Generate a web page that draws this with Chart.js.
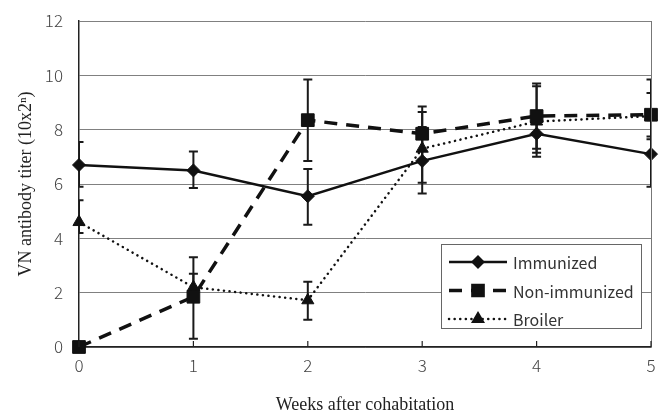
<!DOCTYPE html>
<html>
<head>
<meta charset="utf-8">
<script src="https://cdn.jsdelivr.net/npm/chart.js@4.4.0/dist/chart.umd.min.js"></script>
<style>
  html, body { margin: 0; padding: 0; background: #fff; }
</style>
</head>
<body>
<canvas id="titerChart" width="661" height="420"></canvas>
<script>
// values
const weeks = [0, 1, 2, 3, 4, 5];
const seriesNames = ['Immunized', 'Non-immunized', 'Broiler'];

const immunized     = [6.7, 6.5, 5.55, 6.85, 7.85, 7.1];
const immunizedLow  = [5.9, 5.85, 4.5, 5.65, 7.15, 5.9];
const immunizedHigh = [7.55, 7.2, 6.55, 8.1, 8.6, 8.35];

const nonImmunized     = [0, 1.85, 8.35, 7.85, 8.5, 8.55];
const nonImmunizedLow  = [0, 0.3, 6.85, 6.9, 7.3, 7.75];
const nonImmunizedHigh = [0, 3.3, 9.85, 8.85, 9.7, 9.85];

const broiler     = [4.6, 2.2, 1.72, 7.3, 8.3, 8.5];
const broilerLow  = [4.2, 1.7, 1.0, 6.05, 7.0, 7.65];
const broilerHigh = [5.4, 2.7, 2.4, 8.65, 9.6, 9.35];

const yTicks = [0, 2, 4, 6, 8, 10, 12];

function toPoints(vals) {
    return weeks.map((w, i) => ({ x: w, y: vals[i] }));
}

const lowArrays = [immunizedLow, nonImmunizedLow, broilerLow];
const highArrays = [immunizedHigh, nonImmunizedHigh, broilerHigh];
const tickFont = '"Noto Sans CJK JP", "DejaVu Sans", sans-serif';
const titleFont = '"Liberation Serif", "Times New Roman", serif';

// error bars, drawn through the scales and clipped to the plot area
const errorBars = {
    id: 'errorBars',
    beforeDatasetsDraw(chart) {
        const { ctx, chartArea, scales } = chart;
        ctx.save();
        ctx.beginPath();
        ctx.rect(chartArea.left, chartArea.top, chartArea.right - chartArea.left, chartArea.bottom - chartArea.top);
        ctx.clip();
        ctx.strokeStyle = '#1a1a1a';
        ctx.lineWidth = 2;
        lowArrays.forEach((lows, d) => {
            const highs = highArrays[d];
            weeks.forEach((w, i) => {
                if (lows[i] === highs[i]) return;
                const x = scales.x.getPixelForValue(w);
                const y1 = scales.y.getPixelForValue(lows[i]);
                const y2 = scales.y.getPixelForValue(highs[i]);
                ctx.beginPath();
                ctx.moveTo(x, y1); ctx.lineTo(x, y2);
                ctx.moveTo(x - 4.5, y1); ctx.lineTo(x + 4.5, y1);
                ctx.moveTo(x - 4.5, y2); ctx.lineTo(x + 4.5, y2);
                ctx.stroke();
            });
        });
        ctx.restore();
    },
    afterDraw(chart) {
        const { ctx, chartArea, scales } = chart;
        ctx.save();
        // right border of the frame
        ctx.strokeStyle = '#777';
        ctx.lineWidth = 1;
        ctx.beginPath();
        ctx.moveTo(chartArea.right + 0.5, chartArea.top);
        ctx.lineTo(chartArea.right + 0.5, chartArea.bottom);
        ctx.stroke();
        // inward tick marks on the x axis
        ctx.strokeStyle = '#222';
        ctx.lineWidth = 1.2;
        weeks.forEach(w => {
            const x = scales.x.getPixelForValue(w);
            ctx.beginPath();
            ctx.moveTo(x, chartArea.bottom);
            ctx.lineTo(x, chartArea.bottom - 6);
            ctx.stroke();
        });

        // legend box
        const bx = 441, by = 244, bw = 200, bh = 84;
        ctx.fillStyle = '#fff';
        ctx.fillRect(bx, by, bw, bh);
        ctx.strokeStyle = '#666';
        ctx.lineWidth = 1;
        ctx.strokeRect(bx + 0.5, by + 0.5, bw, bh);
        ctx.font = '16px ' + tickFont;
        ctx.textBaseline = 'middle';
        chart.data.datasets.forEach((ds, i) => {
            const yy = by + 18 + i * 28.5;
            ctx.strokeStyle = '#111';
            ctx.lineWidth = ds.borderWidth;
            ctx.lineCap = ds.borderCapStyle || 'butt';
            ctx.setLineDash(ds.borderDash || []);
            ctx.beginPath();
            ctx.moveTo(bx + 8, yy);
            ctx.lineTo(bx + 66, yy);
            ctx.stroke();
            ctx.setLineDash([]);
            ctx.fillStyle = '#111';
            Chart.helpers.drawPoint(ctx, {
                pointStyle: ds.pointStyle,
                radius: ds.pointRadius * 0.8,
                borderWidth: 1
            }, bx + 37, yy);
            ctx.fillStyle = '#333';
            ctx.fillText(ds.label, bx + 72, yy + 1);
        });
        ctx.restore();
    }
};

new Chart(document.getElementById('titerChart'), {
    type: 'line',
    data: {
        datasets: [
            {
                label: seriesNames[0],
                data: toPoints(immunized),
                borderColor: '#111',
                backgroundColor: '#111',
                borderWidth: 2.5,
                pointStyle: 'rectRot',
                pointRadius: 6.5,
                pointBorderWidth: 1,
                clip: false,
                tension: 0
            },
            {
                label: seriesNames[1],
                data: toPoints(nonImmunized),
                borderColor: '#111',
                backgroundColor: '#111',
                borderWidth: 3.5,
                borderDash: [13, 9],
                pointStyle: 'rect',
                pointRadius: 9,
                pointBorderWidth: 1,
                clip: false,
                tension: 0
            },
            {
                label: seriesNames[2],
                data: toPoints(broiler),
                borderColor: '#111',
                backgroundColor: '#111',
                borderWidth: 2.5,
                borderDash: [0.1, 5.5],
                borderCapStyle: 'round',
                pointStyle: 'triangle',
                pointRadius: 7,
                pointBorderWidth: 1,
                clip: false,
                tension: 0
            }
        ]
    },
    options: {
        responsive: false,
        animation: false,
        devicePixelRatio: 1,
        layout: { padding: { top: 21, right: 4, left: 0, bottom: 0 } },
        plugins: {
            legend: { display: false },
            tooltip: { enabled: false }
        },
        scales: {
            x: {
                type: 'linear',
                min: 0,
                max: 5,
                afterFit(scale) {
                    scale.height = 73;
                    scale.paddingRight = 0;
                    scale.paddingLeft = 0;
                },
                ticks: {
                    stepSize: 1,
                    color: '#444',
                    padding: 8,
                    font: { family: tickFont, size: 17, weight: '300' }
                },
                grid: { display: true, drawOnChartArea: false, drawTicks: false },
                border: { color: '#222', width: 1.5 },
                title: {
                    display: true,
                    text: 'Weeks after cohabitation',
                    color: '#222',
                    padding: { top: 16 },
                    font: { family: titleFont, size: 18 }
                }
            },
            y: {
                min: 0,
                max: 12,
                afterFit(scale) {
                    scale.width = 79;
                    scale.paddingTop = 0;
                    scale.paddingBottom = 0;
                },
                afterBuildTicks(scale) { scale.ticks = yTicks.map(v => ({ value: v })); },
                ticks: {
                    color: '#444',
                    padding: 16,
                    font: { family: tickFont, size: 17, weight: '300' }
                },
                grid: { color: '#808080', lineWidth: 1, drawTicks: false },
                border: { color: '#222', width: 1.5 },
                title: {
                    display: true,
                    text: 'VN antibody titer (10x2ⁿ)',
                    color: '#222',
                    padding: { top: 15, bottom: 4 },
                    font: { family: titleFont, size: 18 }
                }
            }
        }
    },
    plugins: [errorBars]
});
</script>
</body>
</html>
